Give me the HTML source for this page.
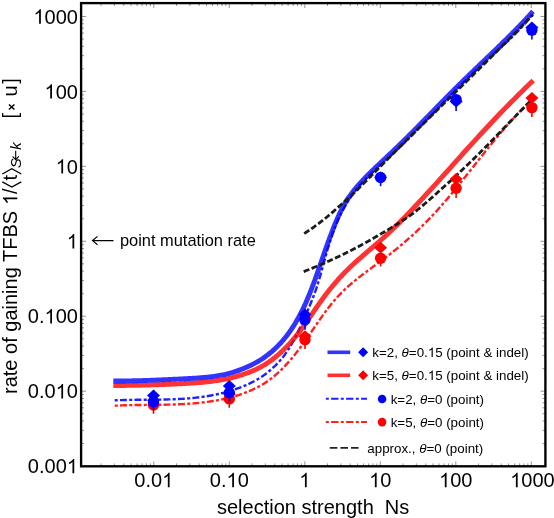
<!DOCTYPE html>
<html><head><meta charset="utf-8"><title>chart</title>
<style>html,body{margin:0;padding:0;background:#fff;}body{width:554px;height:518px;overflow:hidden;font-family:"Liberation Sans",sans-serif;}svg{display:block;will-change:transform}</style>
</head><body>
<svg width="554" height="518" viewBox="0 0 554 518" font-family="Liberation Sans, sans-serif">
<rect width="554" height="518" fill="#fff"/>
<path d="M101.03 466.3 v-2.9 M101.03 3.1 v2.9 M81.1 443.56 h2.9 M545.4 443.56 h-2.9 M114.32 466.3 v-2.9 M114.32 3.1 v2.9 M81.1 430.36 h2.9 M545.4 430.36 h-2.9 M123.76 466.3 v-2.9 M123.76 3.1 v2.9 M81.1 421.00 h2.9 M545.4 421.00 h-2.9 M131.07 466.3 v-2.9 M131.07 3.1 v2.9 M81.1 413.74 h2.9 M545.4 413.74 h-2.9 M137.05 466.3 v-2.9 M137.05 3.1 v2.9 M81.1 407.81 h2.9 M545.4 407.81 h-2.9 M142.10 466.3 v-2.9 M142.10 3.1 v2.9 M81.1 402.79 h2.9 M545.4 402.79 h-2.9 M146.48 466.3 v-2.9 M146.48 3.1 v2.9 M81.1 398.44 h2.9 M545.4 398.44 h-2.9 M150.35 466.3 v-2.9 M150.35 3.1 v2.9 M81.1 394.61 h2.9 M545.4 394.61 h-2.9 M153.80 466.3 v-4.9 M153.80 3.1 v4.9 M81.1 391.18 h4.9 M545.4 391.18 h-4.9 M176.53 466.3 v-2.9 M176.53 3.1 v2.9 M81.1 368.62 h2.9 M545.4 368.62 h-2.9 M189.82 466.3 v-2.9 M189.82 3.1 v2.9 M81.1 355.42 h2.9 M545.4 355.42 h-2.9 M199.26 466.3 v-2.9 M199.26 3.1 v2.9 M81.1 346.06 h2.9 M545.4 346.06 h-2.9 M206.57 466.3 v-2.9 M206.57 3.1 v2.9 M81.1 338.80 h2.9 M545.4 338.80 h-2.9 M212.55 466.3 v-2.9 M212.55 3.1 v2.9 M81.1 332.87 h2.9 M545.4 332.87 h-2.9 M217.60 466.3 v-2.9 M217.60 3.1 v2.9 M81.1 327.85 h2.9 M545.4 327.85 h-2.9 M221.98 466.3 v-2.9 M221.98 3.1 v2.9 M81.1 323.50 h2.9 M545.4 323.50 h-2.9 M225.85 466.3 v-2.9 M225.85 3.1 v2.9 M81.1 319.67 h2.9 M545.4 319.67 h-2.9 M229.30 466.3 v-4.9 M229.30 3.1 v4.9 M81.1 316.24 h4.9 M545.4 316.24 h-4.9 M252.03 466.3 v-2.9 M252.03 3.1 v2.9 M81.1 293.68 h2.9 M545.4 293.68 h-2.9 M265.32 466.3 v-2.9 M265.32 3.1 v2.9 M81.1 280.48 h2.9 M545.4 280.48 h-2.9 M274.76 466.3 v-2.9 M274.76 3.1 v2.9 M81.1 271.12 h2.9 M545.4 271.12 h-2.9 M282.07 466.3 v-2.9 M282.07 3.1 v2.9 M81.1 263.86 h2.9 M545.4 263.86 h-2.9 M288.05 466.3 v-2.9 M288.05 3.1 v2.9 M81.1 257.93 h2.9 M545.4 257.93 h-2.9 M293.10 466.3 v-2.9 M293.10 3.1 v2.9 M81.1 252.91 h2.9 M545.4 252.91 h-2.9 M297.48 466.3 v-2.9 M297.48 3.1 v2.9 M81.1 248.56 h2.9 M545.4 248.56 h-2.9 M301.35 466.3 v-2.9 M301.35 3.1 v2.9 M81.1 244.73 h2.9 M545.4 244.73 h-2.9 M304.80 466.3 v-4.9 M304.80 3.1 v4.9 M81.1 241.30 h4.9 M545.4 241.30 h-4.9 M327.53 466.3 v-2.9 M327.53 3.1 v2.9 M81.1 218.74 h2.9 M545.4 218.74 h-2.9 M340.82 466.3 v-2.9 M340.82 3.1 v2.9 M81.1 205.54 h2.9 M545.4 205.54 h-2.9 M350.26 466.3 v-2.9 M350.26 3.1 v2.9 M81.1 196.18 h2.9 M545.4 196.18 h-2.9 M357.57 466.3 v-2.9 M357.57 3.1 v2.9 M81.1 188.92 h2.9 M545.4 188.92 h-2.9 M363.55 466.3 v-2.9 M363.55 3.1 v2.9 M81.1 182.99 h2.9 M545.4 182.99 h-2.9 M368.60 466.3 v-2.9 M368.60 3.1 v2.9 M81.1 177.97 h2.9 M545.4 177.97 h-2.9 M372.98 466.3 v-2.9 M372.98 3.1 v2.9 M81.1 173.62 h2.9 M545.4 173.62 h-2.9 M376.85 466.3 v-2.9 M376.85 3.1 v2.9 M81.1 169.79 h2.9 M545.4 169.79 h-2.9 M380.30 466.3 v-4.9 M380.30 3.1 v4.9 M81.1 166.36 h4.9 M545.4 166.36 h-4.9 M403.03 466.3 v-2.9 M403.03 3.1 v2.9 M81.1 143.80 h2.9 M545.4 143.80 h-2.9 M416.32 466.3 v-2.9 M416.32 3.1 v2.9 M81.1 130.60 h2.9 M545.4 130.60 h-2.9 M425.76 466.3 v-2.9 M425.76 3.1 v2.9 M81.1 121.24 h2.9 M545.4 121.24 h-2.9 M433.07 466.3 v-2.9 M433.07 3.1 v2.9 M81.1 113.98 h2.9 M545.4 113.98 h-2.9 M439.05 466.3 v-2.9 M439.05 3.1 v2.9 M81.1 108.05 h2.9 M545.4 108.05 h-2.9 M444.10 466.3 v-2.9 M444.10 3.1 v2.9 M81.1 103.03 h2.9 M545.4 103.03 h-2.9 M448.48 466.3 v-2.9 M448.48 3.1 v2.9 M81.1 98.68 h2.9 M545.4 98.68 h-2.9 M452.35 466.3 v-2.9 M452.35 3.1 v2.9 M81.1 94.85 h2.9 M545.4 94.85 h-2.9 M455.80 466.3 v-4.9 M455.80 3.1 v4.9 M81.1 91.42 h4.9 M545.4 91.42 h-4.9 M478.53 466.3 v-2.9 M478.53 3.1 v2.9 M81.1 68.86 h2.9 M545.4 68.86 h-2.9 M491.82 466.3 v-2.9 M491.82 3.1 v2.9 M81.1 55.66 h2.9 M545.4 55.66 h-2.9 M501.26 466.3 v-2.9 M501.26 3.1 v2.9 M81.1 46.30 h2.9 M545.4 46.30 h-2.9 M508.57 466.3 v-2.9 M508.57 3.1 v2.9 M81.1 39.04 h2.9 M545.4 39.04 h-2.9 M514.55 466.3 v-2.9 M514.55 3.1 v2.9 M81.1 33.11 h2.9 M545.4 33.11 h-2.9 M519.60 466.3 v-2.9 M519.60 3.1 v2.9 M81.1 28.09 h2.9 M545.4 28.09 h-2.9 M523.98 466.3 v-2.9 M523.98 3.1 v2.9 M81.1 23.74 h2.9 M545.4 23.74 h-2.9 M527.85 466.3 v-2.9 M527.85 3.1 v2.9 M81.1 19.91 h2.9 M545.4 19.91 h-2.9 M531.30 466.3 v-4.9 M531.30 3.1 v4.9 M81.1 16.48 h4.9 M545.4 16.48 h-4.9" stroke="#666" stroke-width="0.7" fill="none"/>
<path d="M114.66 400.36 L116.17 400.30 L117.68 400.23 L119.19 400.18 L120.71 400.12 L122.23 400.08 L123.74 400.03 L125.27 399.99 L126.79 399.96 L128.31 399.93 L129.84 399.90 L131.37 399.87 L132.90 399.85 L134.43 399.83 L135.96 399.82 L137.49 399.80 L139.03 399.78 L140.56 399.77 L142.10 399.76 L143.64 399.75 L145.18 399.74 L146.72 399.73 L148.26 399.72 L149.80 399.70 L151.34 399.69 L152.88 399.68 L154.43 399.66 L155.97 399.65 L157.51 399.63 L159.06 399.61 L160.60 399.58 L162.15 399.56 L163.69 399.53 L165.23 399.50 L166.78 399.46 L168.32 399.42 L169.86 399.37 L171.41 399.32 L172.95 399.27 L174.49 399.21 L176.03 399.15 L177.57 399.08 L179.11 399.00 L180.65 398.92 L182.19 398.83 L183.72 398.73 L185.26 398.63 L186.79 398.51 L188.32 398.40 L189.86 398.27 L191.39 398.13 L192.91 397.99 L194.44 397.84 L195.97 397.67 L197.49 397.50 L199.01 397.32 L200.53 397.13 L202.05 396.92 L203.56 396.71 L205.08 396.49 L206.59 396.25 L208.10 396.00 L209.61 395.74 L211.11 395.47 L212.61 395.19 L214.11 394.89 L215.61 394.59 L217.11 394.28 L218.60 393.97 L220.09 393.63 L221.58 393.28 L223.07 392.92 L224.55 392.54 L226.03 392.15 L227.51 391.74 L228.98 391.32 L230.45 390.88 L231.91 390.43 L233.37 389.96 L234.82 389.47 L236.27 388.97 L237.71 388.45 L239.15 387.91 L240.58 387.36 L242.01 386.81 L243.43 386.24 L244.85 385.65 L246.26 385.04 L247.66 384.41 L249.05 383.77 L250.43 383.11 L251.81 382.42 L253.18 381.72 L254.53 380.99 L255.88 380.25 L257.22 379.49 L258.55 378.70 L259.86 377.90 L261.17 377.07 L262.47 376.22 L263.73 375.33 L264.98 374.41 L266.22 373.48 L267.45 372.52 L268.66 371.54 L269.86 370.54 L271.04 369.52 L272.21 368.49 L273.36 367.43 L274.50 366.36 L275.62 365.27 L276.72 364.16 L277.80 363.03 L278.87 361.89 L279.92 360.73 L280.94 359.56 L281.93 358.35 L282.90 357.14 L283.85 355.91 L284.78 354.66 L285.69 353.41 L286.58 352.14 L287.44 350.86 L288.29 349.58 L289.11 348.28 L289.92 346.97 L290.71 345.66 L291.48 344.34 L292.23 343.01 L292.97 341.67 L293.70 340.32 L294.42 338.97 L295.12 337.61 L295.81 336.25 L296.49 334.88 L297.17 333.51 L297.83 332.13 L298.49 330.75 L299.14 329.36 L299.79 327.98 L300.43 326.59 L301.08 325.20 L301.73 323.81 L302.38 322.42 L303.02 321.02 L303.65 319.63 L304.29 318.23 L304.92 316.83 L305.54 315.42 L306.17 314.02 L306.78 312.61 L307.40 311.20 L308.00 309.78 L308.61 308.37 L309.21 306.95 L309.80 305.53 L310.39 304.11 L310.97 302.68 L311.55 301.25 L312.12 299.83 L312.68 298.39 L313.24 296.96 L313.79 295.52 L314.34 294.09 L314.88 292.65 L315.41 291.20 L315.90 289.75 L316.39 288.29 L316.87 286.83 L317.34 285.36 L317.80 283.90 L318.26 282.44 L318.71 280.97 L319.16 279.50 L319.60 278.03 L320.03 276.56 L320.46 275.09 L320.88 273.62 L321.30 272.14 L321.71 270.67 L322.13 269.19 L322.54 267.72 L322.94 266.24 L323.35 264.76 L323.75 263.29 L324.15 261.81 L324.56 260.33 L324.96 258.85 L325.36 257.37 L325.76 255.89 L326.17 254.42 L326.58 252.94 L326.98 251.46 L327.40 249.98 L327.84 248.51 L328.29 247.05 L328.75 245.58 L329.21 244.12 L329.67 242.65 L330.14 241.19 L330.62 239.73 L331.11 238.27 L331.60 236.82 L332.10 235.36 L332.61 233.91 L333.12 232.46 L333.65 231.01 L334.18 229.57 L334.73 228.13 L335.28 226.69 L335.85 225.25 L336.43 223.82 L337.01 222.40 L337.61 220.98 L338.22 219.57 L338.84 218.16 L339.48 216.76 L340.14 215.37 L340.82 213.99 L341.52 212.63 L342.23 211.27 L342.95 209.91 L343.69 208.57 L344.44 207.24 L345.21 205.92 L346.00 204.61 L346.79 203.31 L347.58 202.00 L348.37 200.70 L349.19 199.41 L350.02 198.14 L350.86 196.87 L351.73 195.62 L352.61 194.38 L353.51 193.15 L354.43 191.93 L355.36 190.73 L356.31 189.54 L357.28 188.36 L358.26 187.19 L359.25 186.03 L360.26 184.88 L361.29 183.74 L362.33 182.62 L363.38 181.50 L364.44 180.39 L365.51 179.29 L366.59 178.19 L367.68 177.11 L368.78 176.02 L369.88 174.95 L371.00 173.88 L372.12 172.81 L373.24 171.75 L374.37 170.70 L375.51 169.64 L376.65 168.59 L377.79 167.55 L378.94 166.50 L380.09 165.46 L381.24 164.42 L382.39 163.38 L383.54 162.34 L384.69 161.30 L385.84 160.26 L386.98 159.21 L388.13 158.17 L389.27 157.13 L390.41 156.08 L391.54 155.03 L392.68 153.98 L393.80 152.93 L394.93 151.87 L396.05 150.81 L397.17 149.75 L398.28 148.69 L399.40 147.62 L400.51 146.56 L401.61 145.49 L402.72 144.42 L403.82 143.34 L404.91 142.27 L406.01 141.19 L407.10 140.12 L408.19 139.04 L409.28 137.96 L410.37 136.87 L411.45 135.79 L412.53 134.71 L413.61 133.62 L414.69 132.53 L415.77 131.44 L416.84 130.35 L417.92 129.26 L418.99 128.17 L420.06 127.08 L421.13 125.98 L422.20 124.89 L423.26 123.79 L424.33 122.70 L425.39 121.60 L426.46 120.50 L427.52 119.41 L428.58 118.31 L429.64 117.21 L430.70 116.11 L431.76 115.01 L432.82 113.91 L433.88 112.81 L434.94 111.72 L436.00 110.62 L437.06 109.52 L438.12 108.42 L439.18 107.32 L440.24 106.22 L441.30 105.12 L442.36 104.02 L443.42 102.92 L444.48 101.83 L445.54 100.73 L446.60 99.63 L447.67 98.54 L448.73 97.44 L449.79 96.35 L450.86 95.26 L451.93 94.16 L453.00 93.07 L454.07 91.98 L455.14 90.89 L456.21 89.80 L457.28 88.72 L458.36 87.63 L459.44 86.55 L460.52 85.46 L461.60 84.38 L462.68 83.30 L463.77 82.22 L464.85 81.15 L465.94 80.07 L467.03 79.00 L468.13 77.93 L469.23 76.86 L470.33 75.79 L471.43 74.72 L472.53 73.66 L473.64 72.60 L474.75 71.54 L475.86 70.48 L476.98 69.42 L478.10 68.37 L479.22 67.32 L480.35 66.27 L481.48 65.23 L482.61 64.18 L483.75 63.14 L484.89 62.10 L486.03 61.07 L487.17 60.03 L488.31 59.00 L489.46 57.96 L490.61 56.93 L491.75 55.90 L492.90 54.86 L494.04 53.83 L495.19 52.79 L496.34 51.76 L497.48 50.72 L498.62 49.69 L499.76 48.65 L500.90 47.61 L502.04 46.57 L503.17 45.52 L504.30 44.48 L505.43 43.43 L506.56 42.37 L507.68 41.32 L508.79 40.26 L509.90 39.20 L511.01 38.13 L512.11 37.06 L513.21 35.98 L514.30 34.90 L515.38 33.81 L516.46 32.72 L517.53 31.62 L518.59 30.52 L519.65 29.41 L520.70 28.30 L521.74 27.17 L522.77 26.05 L523.79 24.91 L524.80 23.77 L525.81 22.61 L526.80 21.46 L527.79 20.29 L528.76 19.11 L529.72 17.93 L530.68 16.74 L531.62 15.53 L532.55 14.32" stroke="#2020ff" stroke-width="2.4" stroke-dasharray="3.1 2.2 6.9 2.3" fill="none"/>
<path d="M114.73 405.71 L116.06 405.64 L117.40 405.58 L118.74 405.52 L120.08 405.46 L121.42 405.41 L122.77 405.36 L124.11 405.31 L125.46 405.27 L126.81 405.23 L128.16 405.19 L129.51 405.16 L130.86 405.13 L132.21 405.10 L133.57 405.08 L134.93 405.05 L136.28 405.03 L137.64 405.01 L139.00 404.99 L140.36 404.97 L141.72 404.96 L143.09 404.94 L144.45 404.93 L145.81 404.92 L147.18 404.90 L148.55 404.89 L149.91 404.88 L151.28 404.86 L152.65 404.85 L154.02 404.83 L155.39 404.82 L156.76 404.80 L158.13 404.79 L159.50 404.77 L160.87 404.75 L162.24 404.73 L163.61 404.70 L164.98 404.68 L166.35 404.65 L167.73 404.62 L169.10 404.59 L170.47 404.55 L171.84 404.52 L173.22 404.47 L174.59 404.43 L175.96 404.38 L177.33 404.33 L178.71 404.27 L180.08 404.21 L181.45 404.15 L182.82 404.08 L184.19 404.00 L185.56 403.92 L186.93 403.84 L188.30 403.75 L189.67 403.66 L191.04 403.56 L192.41 403.45 L193.77 403.34 L195.14 403.22 L196.51 403.09 L197.87 402.96 L199.24 402.82 L200.60 402.68 L201.96 402.53 L203.33 402.37 L204.69 402.20 L206.05 402.03 L207.40 401.84 L208.76 401.65 L210.12 401.45 L211.47 401.24 L212.83 401.03 L214.18 400.80 L215.53 400.57 L216.88 400.34 L218.23 400.10 L219.58 399.85 L220.93 399.58 L222.28 399.31 L223.62 399.03 L224.97 398.74 L226.31 398.43 L227.64 398.12 L228.98 397.79 L230.31 397.46 L231.64 397.11 L232.97 396.75 L234.29 396.38 L235.61 396.00 L236.92 395.60 L238.23 395.20 L239.53 394.78 L240.83 394.34 L242.12 393.90 L243.41 393.44 L244.69 392.97 L245.96 392.49 L247.23 391.99 L248.49 391.47 L249.75 390.95 L250.99 390.41 L252.23 389.85 L253.46 389.28 L254.68 388.70 L255.90 388.10 L257.10 387.48 L258.30 386.85 L259.48 386.21 L260.66 385.54 L261.82 384.87 L262.98 384.17 L264.13 383.46 L265.26 382.73 L266.38 381.99 L267.49 381.23 L268.59 380.45 L269.68 379.66 L270.76 378.85 L271.83 378.03 L272.89 377.19 L273.94 376.34 L274.98 375.48 L276.00 374.60 L277.02 373.71 L278.03 372.80 L279.03 371.88 L280.02 370.95 L281.00 370.01 L281.98 369.06 L282.94 368.10 L283.90 367.12 L284.84 366.14 L285.78 365.14 L286.71 364.14 L287.64 363.12 L288.55 362.10 L289.46 361.06 L290.36 360.02 L291.26 358.97 L292.14 357.92 L293.03 356.85 L293.90 355.78 L294.77 354.71 L295.63 353.62 L296.49 352.53 L297.34 351.44 L298.18 350.34 L299.02 349.23 L299.85 348.12 L300.68 347.00 L301.51 345.89 L302.33 344.76 L303.14 343.64 L303.95 342.51 L304.76 341.38 L305.56 340.25 L306.36 339.11 L307.15 337.97 L307.94 336.84 L308.73 335.70 L309.52 334.56 L310.30 333.42 L311.08 332.28 L311.86 331.14 L312.64 330.00 L313.41 328.87 L314.19 327.73 L314.96 326.59 L315.74 325.46 L316.51 324.33 L317.29 323.20 L318.07 322.07 L318.85 320.95 L319.63 319.83 L320.41 318.71 L321.19 317.60 L321.98 316.49 L322.77 315.38 L323.56 314.28 L324.36 313.18 L325.16 312.09 L325.97 311.00 L326.78 309.92 L327.59 308.85 L328.41 307.78 L329.24 306.71 L330.07 305.66 L330.91 304.61 L331.76 303.57 L332.61 302.53 L333.47 301.51 L334.34 300.49 L335.22 299.48 L336.10 298.47 L337.00 297.48 L337.90 296.50 L338.81 295.52 L339.73 294.55 L340.65 293.59 L341.59 292.64 L342.54 291.69 L343.49 290.76 L344.46 289.83 L345.43 288.91 L346.42 288.00 L347.41 287.09 L348.41 286.19 L349.42 285.30 L350.43 284.41 L351.46 283.54 L352.49 282.66 L353.52 281.79 L354.57 280.93 L355.62 280.07 L356.67 279.22 L357.73 278.37 L358.80 277.53 L359.87 276.69 L360.94 275.85 L362.02 275.02 L363.11 274.19 L364.19 273.36 L365.28 272.53 L366.38 271.71 L367.47 270.89 L368.57 270.07 L369.67 269.25 L370.78 268.44 L371.88 267.62 L372.99 266.80 L374.09 265.99 L375.20 265.17 L376.31 264.36 L377.42 263.54 L378.53 262.73 L379.63 261.91 L380.74 261.09 L381.85 260.27 L382.95 259.45 L384.05 258.62 L385.15 257.79 L386.25 256.96 L387.34 256.13 L388.44 255.29 L389.53 254.45 L390.61 253.61 L391.69 252.76 L392.77 251.91 L393.84 251.06 L394.92 250.20 L395.98 249.34 L397.05 248.47 L398.11 247.60 L399.16 246.73 L400.21 245.86 L401.26 244.98 L402.31 244.09 L403.35 243.21 L404.39 242.32 L405.42 241.42 L406.46 240.53 L407.48 239.63 L408.51 238.72 L409.53 237.81 L410.55 236.90 L411.56 235.99 L412.57 235.07 L413.58 234.15 L414.58 233.23 L415.58 232.30 L416.57 231.37 L417.57 230.43 L418.56 229.49 L419.54 228.55 L420.52 227.60 L421.50 226.66 L422.48 225.70 L423.45 224.75 L424.42 223.79 L425.38 222.82 L426.34 221.85 L427.29 220.88 L428.24 219.90 L429.18 218.92 L430.13 217.93 L431.06 216.94 L432.00 215.95 L432.93 214.96 L433.86 213.96 L434.79 212.96 L435.71 211.96 L436.63 210.95 L437.54 209.94 L438.45 208.92 L439.36 207.91 L440.27 206.89 L441.17 205.87 L442.07 204.84 L442.97 203.82 L443.87 202.79 L444.76 201.75 L445.65 200.72 L446.54 199.68 L447.42 198.64 L448.31 197.60 L449.19 196.56 L450.07 195.51 L450.94 194.46 L451.82 193.42 L452.69 192.36 L453.56 191.31 L454.43 190.26 L455.29 189.20 L456.16 188.14 L457.02 187.08 L457.89 186.02 L458.75 184.96 L459.61 183.90 L460.46 182.83 L461.32 181.77 L462.18 180.70 L463.03 179.63 L463.89 178.56 L464.74 177.49 L465.59 176.42 L466.44 175.35 L467.29 174.28 L468.14 173.21 L468.99 172.14 L469.84 171.06 L470.69 169.99 L471.54 168.92 L472.39 167.84 L473.23 166.77 L474.08 165.69 L474.93 164.62 L475.78 163.55 L476.63 162.47 L477.47 161.40 L478.32 160.32 L479.17 159.25 L480.02 158.18 L480.87 157.11 L481.72 156.04 L482.57 154.96 L483.42 153.89 L484.28 152.83 L485.13 151.76 L485.98 150.69 L486.84 149.62 L487.70 148.56 L488.55 147.49 L489.41 146.43 L490.27 145.37 L491.13 144.31 L492.00 143.25 L492.86 142.19 L493.73 141.13 L494.59 140.08 L495.46 139.03 L496.33 137.98 L497.21 136.93 L498.08 135.88 L498.96 134.83 L499.84 133.79 L500.72 132.75 L501.60 131.71 L502.49 130.67 L503.38 129.64 L504.27 128.61 L505.16 127.58 L506.06 126.55 L506.96 125.53 L507.86 124.50 L508.76 123.49 L509.67 122.47 L510.58 121.46 L511.49 120.45 L512.41 119.44 L513.33 118.44 L514.25 117.43 L515.18 116.44 L516.11 115.44 L517.04 114.45 L517.98 113.46 L518.92 112.48 L519.86 111.50 L520.81 110.52 L521.76 109.55 L522.72 108.58 L523.68 107.62 L524.65 106.66 L525.61 105.70 L526.59 104.75 L527.56 103.80 L528.55 102.85 L529.53 101.91 L530.53 100.98 L531.53 100.05" stroke="#ff2020" stroke-width="2.4" stroke-dasharray="3.1 2.2 6.9 2.3" fill="none"/>
<path d="M113.31 385.54 L114.69 385.53 L116.06 385.52 L117.43 385.51 L118.80 385.50 L120.17 385.49 L121.54 385.47 L122.91 385.46 L124.28 385.44 L125.65 385.43 L127.01 385.41 L128.38 385.39 L129.75 385.37 L131.11 385.35 L132.48 385.33 L133.85 385.31 L135.21 385.28 L136.58 385.26 L137.94 385.23 L139.31 385.21 L140.67 385.18 L142.04 385.15 L143.40 385.12 L144.77 385.09 L146.13 385.05 L147.50 385.02 L148.86 384.99 L150.22 384.95 L151.59 384.91 L152.95 384.87 L154.32 384.83 L155.68 384.79 L157.05 384.75 L158.41 384.70 L159.77 384.66 L161.14 384.61 L162.51 384.56 L163.87 384.51 L165.24 384.46 L166.60 384.40 L167.97 384.35 L169.33 384.29 L170.70 384.23 L172.07 384.17 L173.44 384.11 L174.80 384.05 L176.17 383.98 L177.54 383.91 L178.91 383.85 L180.28 383.78 L181.65 383.70 L183.02 383.63 L184.39 383.55 L185.77 383.48 L187.14 383.40 L188.51 383.31 L189.89 383.23 L191.26 383.14 L192.63 383.06 L194.01 382.96 L195.38 382.87 L196.76 382.77 L198.13 382.66 L199.51 382.55 L200.88 382.44 L202.26 382.32 L203.63 382.19 L205.00 382.06 L206.37 381.92 L207.74 381.78 L209.11 381.62 L210.47 381.46 L211.84 381.29 L213.20 381.11 L214.56 380.93 L215.92 380.74 L217.28 380.55 L218.64 380.35 L219.99 380.14 L221.35 379.91 L222.70 379.68 L224.04 379.43 L225.39 379.17 L226.73 378.90 L228.07 378.62 L229.40 378.32 L230.74 378.01 L232.07 377.68 L233.39 377.34 L234.71 376.99 L236.03 376.62 L237.34 376.24 L238.65 375.85 L239.95 375.44 L241.26 375.04 L242.57 374.63 L243.87 374.20 L245.16 373.76 L246.45 373.31 L247.73 372.84 L249.01 372.35 L250.28 371.85 L251.55 371.34 L252.81 370.80 L254.07 370.26 L255.31 369.69 L256.55 369.11 L257.79 368.52 L259.01 367.91 L260.23 367.28 L261.44 366.64 L262.65 365.98 L263.82 365.27 L264.99 364.55 L266.15 363.81 L267.30 363.06 L268.44 362.29 L269.57 361.51 L270.69 360.71 L271.80 359.90 L272.90 359.07 L273.99 358.23 L275.08 357.38 L276.15 356.51 L277.21 355.63 L278.25 354.73 L279.29 353.81 L280.31 352.88 L281.33 351.94 L282.34 350.99 L283.33 350.04 L284.32 349.06 L285.30 348.08 L286.27 347.09 L287.23 346.10 L288.18 345.09 L289.13 344.07 L290.06 343.05 L290.99 342.01 L291.90 340.97 L292.81 339.92 L293.71 338.87 L294.60 337.80 L295.49 336.73 L296.36 335.66 L297.22 334.57 L298.08 333.49 L298.93 332.39 L299.77 331.30 L300.60 330.19 L301.43 329.09 L302.24 327.97 L303.06 326.86 L303.86 325.74 L304.66 324.62 L305.46 323.49 L306.25 322.37 L307.04 321.24 L307.82 320.11 L308.60 318.98 L309.38 317.85 L310.16 316.72 L310.93 315.58 L311.71 314.45 L312.48 313.32 L313.25 312.19 L314.03 311.06 L314.80 309.93 L315.58 308.80 L316.35 307.67 L317.13 306.55 L317.92 305.43 L318.70 304.31 L319.49 303.20 L320.28 302.08 L321.07 300.97 L321.87 299.87 L322.67 298.76 L323.47 297.66 L324.28 296.56 L325.09 295.47 L325.91 294.38 L326.74 293.31 L327.58 292.24 L328.42 291.17 L329.27 290.10 L330.12 289.05 L330.98 287.99 L331.84 286.94 L332.70 285.90 L333.57 284.85 L334.45 283.82 L335.33 282.79 L336.22 281.76 L337.11 280.74 L338.01 279.73 L338.91 278.72 L339.82 277.72 L340.74 276.72 L341.66 275.73 L342.59 274.74 L343.52 273.76 L344.47 272.79 L345.42 271.82 L346.37 270.86 L347.33 269.90 L348.30 268.95 L349.27 268.00 L350.25 267.06 L351.24 266.13 L352.23 265.20 L353.23 264.27 L354.23 263.35 L355.24 262.43 L356.25 261.52 L357.26 260.61 L358.28 259.70 L359.31 258.80 L360.34 257.89 L361.37 256.99 L362.40 256.10 L363.44 255.20 L364.47 254.31 L365.51 253.41 L366.55 252.51 L367.59 251.62 L368.63 250.72 L369.67 249.82 L370.71 248.93 L371.75 248.03 L372.79 247.13 L373.83 246.24 L374.87 245.34 L375.91 244.44 L376.95 243.54 L377.98 242.63 L379.02 241.73 L380.05 240.82 L381.08 239.91 L382.11 238.99 L383.14 238.08 L384.16 237.16 L385.18 236.23 L386.19 235.30 L387.20 234.37 L388.21 233.44 L389.21 232.50 L390.21 231.56 L391.21 230.62 L392.20 229.67 L393.19 228.72 L394.18 227.77 L395.16 226.81 L396.14 225.85 L397.12 224.89 L398.09 223.93 L399.07 222.96 L400.04 221.99 L401.00 221.02 L401.97 220.05 L402.93 219.07 L403.89 218.10 L404.84 217.12 L405.80 216.13 L406.75 215.15 L407.70 214.16 L408.65 213.17 L409.60 212.18 L410.54 211.19 L411.48 210.20 L412.42 209.20 L413.37 208.21 L414.31 207.22 L415.25 206.22 L416.18 205.22 L417.12 204.22 L418.06 203.22 L418.99 202.22 L419.92 201.22 L420.86 200.22 L421.79 199.21 L422.72 198.21 L423.64 197.20 L424.57 196.20 L425.50 195.19 L426.43 194.18 L427.35 193.17 L428.28 192.16 L429.20 191.15 L430.13 190.14 L431.05 189.13 L431.97 188.12 L432.89 187.11 L433.82 186.10 L434.74 185.09 L435.66 184.07 L436.58 183.06 L437.50 182.04 L438.42 181.03 L439.34 180.02 L440.26 179.00 L441.17 177.98 L442.09 176.96 L443.00 175.94 L443.91 174.92 L444.83 173.90 L445.74 172.88 L446.65 171.86 L447.56 170.84 L448.48 169.82 L449.39 168.80 L450.30 167.78 L451.21 166.76 L452.12 165.73 L453.04 164.71 L453.95 163.69 L454.86 162.67 L455.77 161.65 L456.69 160.63 L457.60 159.61 L458.51 158.59 L459.43 157.57 L460.34 156.55 L461.25 155.53 L462.17 154.52 L463.08 153.50 L464.00 152.48 L464.91 151.46 L465.83 150.45 L466.75 149.43 L467.66 148.41 L468.58 147.40 L469.50 146.38 L470.42 145.37 L471.34 144.35 L472.26 143.34 L473.18 142.33 L474.10 141.32 L475.02 140.31 L475.94 139.30 L476.87 138.29 L477.79 137.28 L478.71 136.27 L479.64 135.26 L480.57 134.26 L481.49 133.25 L482.42 132.25 L483.35 131.24 L484.28 130.24 L485.21 129.24 L486.14 128.24 L487.08 127.24 L488.01 126.24 L488.95 125.24 L489.88 124.24 L490.81 123.24 L491.74 122.24 L492.68 121.24 L493.62 120.25 L494.55 119.25 L495.49 118.26 L496.43 117.26 L497.38 116.27 L498.32 115.28 L499.26 114.29 L500.21 113.31 L501.16 112.32 L502.11 111.34 L503.06 110.35 L504.01 109.37 L504.96 108.39 L505.92 107.41 L506.87 106.44 L507.83 105.46 L508.79 104.49 L509.75 103.52 L510.72 102.54 L511.68 101.58 L512.65 100.61 L513.62 99.64 L514.59 98.68 L515.56 97.71 L516.52 96.74 L517.48 95.77 L518.45 94.80 L519.42 93.84 L520.39 92.87 L521.36 91.91 L522.34 90.95 L523.32 89.99 L524.29 89.03 L525.28 88.08 L526.26 87.12 L527.24 86.17 L528.23 85.22 L529.22 84.28 L530.21 83.33 L531.21 82.39 L532.21 81.45 L533.21 80.51" stroke="#ff0000" stroke-opacity="0.8" stroke-width="4.9" fill="none"/>
<path d="M113.31 381.01 L114.81 381.01 L116.31 381.01 L117.81 381.00 L119.31 380.99 L120.81 380.98 L122.31 380.97 L123.81 380.95 L125.31 380.94 L126.82 380.91 L128.32 380.89 L129.82 380.87 L131.32 380.84 L132.83 380.81 L134.33 380.78 L135.83 380.74 L137.34 380.71 L138.84 380.67 L140.34 380.63 L141.85 380.59 L143.35 380.54 L144.85 380.50 L146.36 380.45 L147.86 380.40 L149.37 380.35 L150.87 380.29 L152.37 380.24 L153.88 380.18 L155.38 380.12 L156.89 380.06 L158.39 380.00 L159.89 379.94 L161.40 379.87 L162.90 379.81 L164.40 379.74 L165.91 379.67 L167.41 379.60 L168.91 379.53 L170.42 379.46 L171.92 379.39 L173.42 379.31 L174.93 379.24 L176.43 379.16 L177.93 379.09 L179.43 379.01 L180.94 378.93 L182.44 378.85 L183.94 378.77 L185.44 378.69 L186.94 378.61 L188.44 378.52 L189.94 378.44 L191.44 378.36 L192.94 378.27 L194.44 378.18 L195.94 378.09 L197.44 377.99 L198.94 377.88 L200.43 377.77 L201.93 377.65 L203.42 377.53 L204.91 377.39 L206.40 377.25 L207.89 377.09 L209.37 376.93 L210.86 376.75 L212.34 376.56 L213.82 376.36 L215.30 376.14 L216.78 375.93 L218.26 375.69 L219.73 375.45 L221.20 375.18 L222.67 374.90 L224.14 374.59 L225.60 374.27 L227.07 373.92 L228.53 373.56 L229.98 373.17 L231.44 372.76 L232.89 372.33 L234.33 371.87 L235.77 371.39 L237.21 370.90 L238.64 370.38 L240.06 369.84 L241.50 369.31 L242.92 368.76 L244.34 368.19 L245.75 367.59 L247.16 366.98 L248.56 366.35 L249.95 365.70 L251.33 365.03 L252.70 364.34 L254.07 363.62 L255.42 362.90 L256.77 362.15 L258.10 361.38 L259.42 360.60 L260.73 359.79 L262.03 358.97 L263.31 358.12 L264.56 357.23 L265.80 356.33 L267.02 355.41 L268.23 354.48 L269.43 353.53 L270.60 352.57 L271.77 351.59 L272.91 350.59 L274.04 349.59 L275.16 348.56 L276.25 347.53 L277.33 346.47 L278.38 345.40 L279.42 344.32 L280.44 343.23 L281.45 342.12 L282.43 341.00 L283.41 339.87 L284.36 338.73 L285.30 337.57 L286.23 336.41 L287.14 335.23 L288.03 334.04 L288.91 332.84 L289.78 331.64 L290.63 330.42 L291.47 329.19 L292.29 327.95 L293.10 326.70 L293.90 325.44 L294.68 324.18 L295.46 322.90 L296.22 321.62 L296.97 320.33 L297.71 319.03 L298.43 317.72 L299.15 316.41 L299.85 315.08 L300.55 313.75 L301.23 312.42 L301.91 311.07 L302.57 309.72 L303.23 308.36 L303.87 307.00 L304.51 305.63 L305.14 304.26 L305.76 302.88 L306.37 301.49 L306.98 300.10 L307.57 298.71 L308.16 297.31 L308.75 295.90 L309.32 294.50 L309.89 293.08 L310.46 291.67 L311.02 290.25 L311.57 288.83 L312.12 287.40 L312.66 285.97 L313.20 284.54 L313.73 283.11 L314.26 281.67 L314.79 280.23 L315.31 278.79 L315.83 277.35 L316.34 275.91 L316.85 274.46 L317.36 273.02 L317.87 271.57 L318.38 270.13 L318.88 268.68 L319.38 267.24 L319.88 265.79 L320.38 264.35 L320.88 262.90 L321.38 261.46 L321.87 260.01 L322.36 258.57 L322.85 257.12 L323.35 255.68 L323.84 254.24 L324.34 252.81 L324.83 251.37 L325.33 249.94 L325.83 248.51 L326.33 247.08 L326.84 245.66 L327.35 244.24 L327.86 242.82 L328.38 241.41 L328.89 240.00 L329.42 238.59 L329.95 237.19 L330.48 235.79 L331.01 234.40 L331.53 233.00 L332.05 231.60 L332.58 230.21 L333.11 228.82 L333.65 227.44 L334.20 226.06 L334.75 224.69 L335.31 223.32 L335.88 221.95 L336.46 220.59 L337.05 219.24 L337.64 217.89 L338.25 216.55 L338.86 215.21 L339.48 213.88 L340.12 212.55 L340.76 211.23 L341.42 209.91 L342.09 208.60 L342.76 207.30 L343.45 206.00 L344.16 204.71 L344.87 203.42 L345.64 202.17 L346.43 200.93 L347.23 199.69 L348.04 198.47 L348.87 197.25 L349.72 196.04 L350.58 194.84 L351.46 193.65 L352.35 192.47 L353.26 191.30 L354.18 190.13 L355.11 188.98 L356.06 187.83 L357.02 186.69 L358.00 185.55 L358.98 184.42 L359.98 183.30 L360.99 182.19 L362.01 181.08 L363.04 179.98 L364.08 178.88 L365.12 177.79 L366.18 176.71 L367.24 175.63 L368.31 174.55 L369.39 173.48 L370.47 172.41 L371.56 171.34 L372.66 170.28 L373.76 169.22 L374.86 168.17 L375.97 167.11 L377.08 166.06 L378.19 165.01 L379.31 163.97 L380.42 162.92 L381.54 161.88 L382.66 160.83 L383.78 159.79 L384.90 158.75 L386.01 157.70 L387.13 156.66 L388.24 155.62 L389.35 154.57 L390.46 153.53 L391.57 152.48 L392.67 151.43 L393.77 150.39 L394.86 149.34 L395.96 148.28 L397.05 147.23 L398.13 146.18 L399.22 145.13 L400.30 144.07 L401.38 143.02 L402.46 141.96 L403.54 140.90 L404.61 139.84 L405.68 138.78 L406.75 137.73 L407.82 136.66 L408.88 135.60 L409.94 134.54 L411.01 133.48 L412.07 132.42 L413.12 131.35 L414.18 130.29 L415.24 129.23 L416.29 128.16 L417.34 127.10 L418.39 126.03 L419.44 124.97 L420.49 123.90 L421.54 122.83 L422.59 121.77 L423.64 120.70 L424.68 119.63 L425.73 118.57 L426.77 117.50 L427.82 116.43 L428.86 115.37 L429.91 114.30 L430.95 113.23 L431.99 112.17 L433.04 111.10 L434.08 110.03 L435.12 108.96 L436.17 107.90 L437.21 106.83 L438.26 105.77 L439.30 104.70 L440.34 103.63 L441.39 102.57 L442.44 101.50 L443.48 100.44 L444.53 99.38 L445.58 98.31 L446.63 97.25 L447.68 96.19 L448.73 95.12 L449.79 94.06 L450.84 93.00 L451.90 91.94 L452.95 90.88 L454.01 89.82 L455.07 88.77 L456.13 87.71 L457.20 86.65 L458.26 85.60 L459.33 84.54 L460.40 83.49 L461.47 82.44 L462.54 81.38 L463.62 80.33 L464.70 79.28 L465.77 78.23 L466.85 77.19 L467.94 76.14 L469.02 75.09 L470.10 74.04 L471.19 73.00 L472.28 71.95 L473.36 70.90 L474.45 69.86 L475.54 68.81 L476.63 67.77 L477.72 66.72 L478.81 65.68 L479.91 64.63 L481.00 63.59 L482.09 62.55 L483.18 61.50 L484.28 60.46 L485.37 59.41 L486.46 58.37 L487.55 57.32 L488.65 56.28 L489.74 55.23 L490.83 54.18 L491.92 53.14 L493.01 52.09 L494.10 51.04 L495.19 49.99 L496.27 48.94 L497.36 47.89 L498.44 46.84 L499.53 45.79 L500.61 44.74 L501.69 43.68 L502.77 42.63 L503.85 41.57 L504.92 40.52 L506.00 39.46 L507.07 38.40 L508.14 37.34 L509.21 36.28 L510.27 35.21 L511.34 34.15 L512.40 33.08 L513.46 32.02 L514.51 30.95 L515.56 29.88 L516.62 28.81 L517.66 27.73 L518.71 26.66 L519.75 25.58 L520.79 24.50 L521.82 23.42 L522.85 22.34 L523.88 21.25 L524.91 20.16 L525.93 19.08 L526.94 17.98 L527.96 16.89 L528.97 15.80 L529.97 14.70 L530.97 13.60 L531.97 12.49 L532.96 11.39" stroke="#0000ff" stroke-opacity="0.8" stroke-width="4.9" fill="none"/>
<path d="M304.19 233.50 L304.86 233.08 L305.54 232.65 L306.21 232.23 L306.88 231.80 L307.54 231.36 L308.21 230.93 L308.87 230.49 L309.53 230.05 L310.19 229.60 L310.84 229.16 L311.50 228.71 L312.15 228.26 L312.80 227.80 L313.44 227.34 L314.09 226.89 L314.73 226.42 L315.38 225.96 L316.02 225.49 L316.66 225.03 L317.29 224.55 L317.93 224.08 L318.56 223.61 L319.19 223.13 L319.82 222.65 L320.45 222.17 L321.07 221.68 L321.70 221.20 L322.32 220.71 L322.94 220.22 L323.56 219.72 L324.18 219.23 L324.80 218.73 L325.41 218.24 L326.02 217.74 L326.64 217.23 L327.25 216.73 L327.86 216.23 L328.46 215.72 L329.07 215.21 L329.67 214.70 L330.28 214.19 L330.88 213.67 L331.48 213.16 L332.08 212.64 L332.68 212.12 L333.28 211.60 L333.87 211.08 L334.47 210.56 L335.06 210.03 L335.65 209.50 L336.24 208.98 L336.83 208.45 L337.42 207.92 L338.01 207.39 L338.60 206.85 L339.18 206.32 L339.77 205.78 L340.37 205.26 L340.97 204.75 L341.57 204.23 L342.17 203.71 L342.77 203.19 L343.37 202.67 L343.97 202.15 L344.57 201.62 L345.17 201.10 L345.76 200.58 L346.36 200.05 L346.96 199.52 L347.55 199.00 L348.14 198.47 L348.74 197.94 L349.33 197.41 L349.92 196.88 L350.51 196.34 L351.08 195.79 L351.65 195.23 L352.22 194.68 L352.79 194.13 L353.36 193.57 L353.93 193.02 L354.50 192.46 L355.07 191.90 L355.63 191.35 L356.20 190.79 L356.77 190.23 L357.33 189.67 L357.90 189.12 L358.46 188.56 L359.03 188.00 L359.60 187.44 L360.16 186.88 L360.72 186.32 L361.29 185.76 L361.85 185.19 L362.41 184.63 L362.98 184.07 L363.54 183.51 L364.10 182.95 L364.66 182.38 L365.23 181.82 L365.79 181.26 L366.35 180.69 L366.91 180.13 L367.47 179.57 L368.03 179.00 L368.59 178.44 L369.15 177.87 L369.71 177.31 L370.27 176.74 L370.83 176.18 L371.39 175.61 L371.95 175.05 L372.51 174.48 L373.07 173.91 L373.63 173.35 L374.19 172.78 L374.75 172.22 L375.31 171.65 L375.87 171.08 L376.42 170.52 L376.98 169.95 L377.54 169.38 L378.10 168.82 L378.66 168.25 L379.22 167.68 L379.78 167.12 L380.33 166.55 L380.89 165.98 L381.45 165.42 L382.01 164.85 L382.57 164.28 L383.13 163.72 L383.68 163.15 L384.24 162.59 L384.80 162.02 L385.36 161.45 L385.92 160.89 L386.48 160.32 L387.04 159.76 L387.60 159.19 L388.16 158.63 L388.72 158.06 L389.28 157.50 L389.84 156.93 L390.40 156.37 L390.96 155.80 L391.52 155.24 L392.08 154.67 L392.64 154.11 L393.20 153.55 L393.76 152.98 L394.32 152.42 L394.88 151.86 L395.44 151.29 L396.01 150.73 L396.57 150.17 L397.13 149.61 L397.69 149.05 L398.25 148.48 L398.82 147.92 L399.38 147.36 L399.94 146.80 L400.50 146.24 L401.07 145.68 L401.63 145.12 L402.19 144.56 L402.76 143.99 L403.32 143.43 L403.88 142.87 L404.45 142.31 L405.01 141.75 L405.58 141.19 L406.14 140.63 L406.70 140.08 L407.27 139.52 L407.83 138.96 L408.40 138.40 L408.96 137.84 L409.53 137.28 L410.09 136.72 L410.66 136.16 L411.22 135.60 L411.79 135.05 L412.35 134.49 L412.92 133.93 L413.49 133.37 L414.05 132.81 L414.62 132.26 L415.18 131.70 L415.75 131.14 L416.32 130.59 L416.88 130.03 L417.45 129.47 L418.02 128.91 L418.58 128.36 L419.15 127.80 L419.72 127.24 L420.28 126.69 L420.85 126.13 L421.41 125.57 L421.98 125.01 L422.54 124.46 L423.11 123.90 L423.68 123.34 L424.24 122.78 L424.81 122.23 L425.37 121.67 L425.94 121.11 L426.51 120.56 L427.07 120.00 L427.64 119.44 L428.21 118.88 L428.77 118.33 L429.34 117.77 L429.91 117.21 L430.47 116.66 L431.04 116.10 L431.61 115.54 L432.17 114.99 L432.74 114.43 L433.31 113.88 L433.87 113.32 L434.44 112.76 L435.01 112.21 L435.57 111.65 L436.14 111.10 L436.71 110.54 L437.28 109.98 L437.84 109.43 L438.41 108.87 L438.98 108.32 L439.55 107.76 L440.11 107.20 L440.68 106.65 L441.25 106.09 L441.82 105.54 L442.38 104.98 L442.95 104.43 L443.52 103.87 L444.09 103.32 L444.65 102.76 L445.22 102.20 L445.79 101.65 L446.36 101.09 L446.92 100.54 L447.49 99.98 L448.06 99.43 L448.63 98.87 L449.19 98.32 L449.76 97.76 L450.33 97.21 L450.90 96.65 L451.47 96.10 L452.03 95.54 L452.60 94.99 L453.17 94.43 L453.74 93.87 L454.30 93.32 L454.87 92.76 L455.44 92.21 L456.01 91.65 L456.57 91.10 L457.14 90.54 L457.71 89.99 L458.28 89.43 L458.84 88.88 L459.41 88.32 L459.98 87.77 L460.55 87.21 L461.11 86.65 L461.68 86.10 L462.25 85.54 L462.82 84.99 L463.38 84.43 L463.95 83.88 L464.52 83.32 L465.09 82.76 L465.65 82.21 L466.22 81.65 L466.79 81.10 L467.35 80.54 L467.92 79.98 L468.49 79.43 L469.06 78.87 L469.62 78.32 L470.19 77.76 L470.76 77.20 L471.32 76.65 L471.89 76.09 L472.45 75.53 L473.02 74.98 L473.59 74.42 L474.15 73.86 L474.72 73.30 L475.29 72.75 L475.85 72.19 L476.42 71.63 L476.98 71.08 L477.55 70.52 L478.11 69.96 L478.68 69.40 L479.24 68.84 L479.81 68.29 L480.38 67.73 L480.94 67.17 L481.51 66.61 L482.07 66.05 L482.64 65.50 L483.20 64.94 L483.76 64.38 L484.33 63.82 L484.89 63.26 L485.46 62.70 L486.02 62.14 L486.59 61.58 L487.15 61.02 L487.71 60.47 L488.28 59.91 L488.84 59.35 L489.41 58.79 L489.97 58.23 L490.53 57.67 L491.10 57.11 L491.66 56.55 L492.22 55.99 L492.79 55.43 L493.35 54.86 L493.91 54.30 L494.47 53.74 L495.04 53.18 L495.60 52.62 L496.16 52.06 L496.72 51.50 L497.29 50.94 L497.85 50.37 L498.41 49.81 L498.97 49.25 L499.53 48.69 L500.09 48.13 L500.65 47.56 L501.22 47.00 L501.78 46.44 L502.34 45.87 L502.90 45.31 L503.46 44.75 L504.02 44.18 L504.58 43.62 L505.14 43.06 L505.70 42.49 L506.26 41.93 L506.82 41.36 L507.38 40.80 L507.94 40.23 L508.50 39.67 L509.05 39.10 L509.61 38.54 L510.17 37.97 L510.73 37.41 L511.29 36.84 L511.85 36.28 L512.40 35.71 L512.96 35.14 L513.52 34.58 L514.08 34.01 L514.63 33.44 L515.19 32.88 L515.75 32.31 L516.30 31.74 L516.86 31.17 L517.42 30.60 L517.97 30.04 L518.53 29.47 L519.08 28.90 L519.64 28.33 L520.19 27.76 L520.75 27.19 L521.30 26.62 L521.86 26.05 L522.41 25.48 L522.97 24.91 L523.52 24.34 L524.07 23.77 L524.63 23.20 L525.18 22.63 L525.73 22.05 L526.29 21.48 L526.84 20.91 L527.39 20.34 L527.94 19.77 L528.50 19.19 L529.05 18.62 L529.60 18.05 L530.15 17.47 L530.70 16.90 L531.25 16.32 L531.80 15.75 L532.35 15.18 L532.90 14.60" stroke="#1c1c1c" stroke-width="2.8" stroke-dasharray="6 2.5" fill="none"/>
<path d="M303.73 271.61 L304.40 271.34 L305.07 271.08 L305.74 270.81 L306.42 270.54 L307.09 270.27 L307.76 270.01 L308.43 269.74 L309.10 269.47 L309.77 269.19 L310.44 268.92 L311.11 268.65 L311.78 268.38 L312.45 268.10 L313.12 267.83 L313.79 267.55 L314.46 267.27 L315.12 266.99 L315.79 266.71 L316.46 266.43 L317.12 266.15 L317.79 265.87 L318.46 265.59 L319.12 265.31 L319.79 265.02 L320.45 264.74 L321.12 264.45 L321.78 264.17 L322.44 263.88 L323.11 263.59 L323.77 263.30 L324.43 263.01 L325.10 262.72 L325.76 262.43 L326.42 262.13 L327.08 261.84 L327.74 261.54 L328.40 261.25 L329.06 260.95 L329.72 260.66 L330.38 260.36 L331.04 260.06 L331.69 259.76 L332.35 259.46 L333.01 259.16 L333.67 258.85 L334.32 258.55 L334.98 258.24 L335.63 257.94 L336.29 257.63 L336.94 257.33 L337.60 257.02 L338.25 256.71 L338.91 256.40 L339.56 256.09 L340.21 255.78 L340.86 255.46 L341.51 255.15 L342.16 254.83 L342.81 254.52 L343.46 254.20 L344.11 253.89 L344.76 253.57 L345.41 253.25 L346.06 252.93 L346.71 252.61 L347.35 252.28 L348.00 251.96 L348.65 251.64 L349.29 251.31 L349.94 250.99 L350.58 250.66 L351.23 250.33 L351.87 250.00 L352.51 249.68 L353.16 249.34 L353.80 249.01 L354.44 248.68 L355.08 248.35 L355.72 248.01 L356.36 247.68 L357.00 247.34 L357.64 247.01 L358.28 246.67 L358.91 246.33 L359.55 245.99 L360.19 245.65 L360.82 245.31 L361.46 244.96 L362.09 244.62 L362.73 244.27 L363.36 243.93 L364.00 243.58 L364.63 243.23 L365.26 242.89 L365.89 242.54 L366.52 242.18 L367.15 241.83 L367.78 241.48 L368.41 241.13 L369.04 240.77 L369.67 240.42 L370.30 240.06 L370.92 239.70 L371.55 239.34 L372.17 238.98 L372.80 238.62 L373.42 238.26 L374.05 237.90 L374.67 237.54 L375.29 237.17 L375.91 236.81 L376.53 236.44 L377.15 236.07 L377.77 235.70 L378.39 235.33 L379.01 234.96 L379.63 234.59 L380.25 234.23 L380.88 233.87 L381.50 233.51 L382.13 233.15 L382.75 232.79 L383.38 232.43 L384.00 232.07 L384.63 231.70 L385.25 231.34 L385.87 230.97 L386.49 230.61 L387.11 230.24 L387.73 229.87 L388.35 229.50 L388.97 229.13 L389.59 228.76 L390.20 228.38 L390.82 228.01 L391.43 227.63 L392.05 227.26 L392.66 226.88 L393.28 226.50 L393.89 226.12 L394.50 225.74 L395.12 225.36 L395.73 224.98 L396.34 224.59 L396.95 224.21 L397.56 223.82 L398.16 223.43 L398.77 223.04 L399.38 222.65 L399.99 222.26 L400.59 221.87 L401.20 221.48 L401.80 221.08 L402.40 220.69 L403.01 220.29 L403.61 219.89 L404.21 219.49 L404.81 219.09 L405.41 218.69 L406.01 218.29 L406.61 217.89 L407.20 217.48 L407.80 217.08 L408.40 216.67 L408.99 216.26 L409.59 215.85 L410.18 215.44 L410.77 215.03 L411.37 214.62 L411.96 214.20 L412.55 213.79 L413.12 213.34 L413.68 212.90 L414.25 212.45 L414.81 212.00 L415.38 211.55 L415.94 211.09 L416.50 210.64 L417.06 210.19 L417.62 209.73 L418.18 209.27 L418.74 208.82 L419.30 208.36 L419.85 207.90 L420.41 207.44 L420.96 206.98 L421.52 206.52 L422.07 206.05 L422.62 205.59 L423.18 205.12 L423.73 204.66 L424.28 204.19 L424.83 203.72 L425.37 203.26 L425.92 202.79 L426.47 202.32 L427.02 201.85 L427.56 201.37 L428.11 200.90 L428.65 200.43 L429.19 199.95 L429.74 199.48 L430.28 199.00 L430.82 198.52 L431.36 198.04 L431.90 197.57 L432.44 197.09 L432.98 196.61 L433.51 196.12 L434.05 195.64 L434.59 195.16 L435.12 194.68 L435.66 194.19 L436.19 193.71 L436.73 193.22 L437.26 192.73 L437.79 192.25 L438.32 191.76 L438.85 191.27 L439.38 190.78 L439.91 190.29 L440.46 189.81 L441.00 189.34 L441.54 188.86 L442.09 188.39 L442.63 187.91 L443.17 187.44 L443.71 186.96 L444.25 186.48 L444.79 186.00 L445.33 185.52 L445.87 185.04 L446.41 184.56 L446.95 184.08 L447.49 183.59 L448.03 183.11 L448.56 182.63 L449.10 182.14 L449.63 181.66 L450.17 181.17 L450.70 180.68 L451.24 180.20 L451.77 179.71 L452.30 179.22 L452.84 178.73 L453.37 178.24 L453.90 177.75 L454.43 177.26 L454.96 176.77 L455.49 176.28 L456.02 175.78 L456.55 175.29 L457.08 174.80 L457.61 174.30 L458.14 173.81 L458.66 173.31 L459.19 172.82 L459.72 172.32 L460.24 171.82 L460.77 171.33 L461.30 170.83 L461.82 170.33 L462.34 169.83 L462.87 169.33 L463.39 168.83 L463.92 168.33 L464.44 167.83 L464.96 167.33 L465.48 166.83 L466.01 166.33 L466.53 165.82 L467.05 165.32 L467.57 164.82 L468.09 164.31 L468.61 163.81 L469.13 163.30 L469.65 162.80 L470.17 162.29 L470.69 161.79 L471.21 161.28 L471.73 160.78 L472.24 160.27 L472.76 159.76 L473.28 159.25 L473.80 158.75 L474.31 158.24 L474.83 157.73 L475.35 157.22 L475.86 156.71 L476.38 156.20 L476.89 155.69 L477.41 155.18 L477.92 154.67 L478.44 154.16 L478.95 153.65 L479.47 153.14 L479.98 152.63 L480.49 152.12 L481.01 151.61 L481.52 151.10 L482.03 150.59 L482.55 150.07 L483.06 149.56 L483.57 149.05 L484.08 148.54 L484.60 148.02 L485.11 147.51 L485.62 147.00 L486.13 146.48 L486.64 145.97 L487.15 145.46 L487.66 144.94 L488.18 144.43 L488.68 143.91 L489.19 143.39 L489.69 142.87 L490.19 142.35 L490.70 141.83 L491.20 141.31 L491.70 140.79 L492.21 140.27 L492.71 139.75 L493.21 139.23 L493.72 138.70 L494.22 138.18 L494.72 137.66 L495.22 137.14 L495.73 136.62 L496.23 136.10 L496.73 135.58 L497.23 135.06 L497.74 134.54 L498.24 134.02 L498.74 133.49 L499.24 132.97 L499.74 132.45 L500.25 131.93 L500.75 131.41 L501.25 130.89 L501.75 130.37 L502.25 129.85 L502.76 129.33 L503.26 128.81 L503.76 128.29 L504.26 127.77 L504.76 127.25 L505.26 126.73 L505.77 126.21 L506.27 125.69 L506.77 125.17 L507.27 124.65 L507.77 124.13 L508.28 123.61 L508.78 123.09 L509.28 122.57 L509.78 122.06 L510.28 121.54 L510.79 121.02 L511.29 120.50 L511.79 119.98 L512.29 119.47 L512.79 118.95 L513.30 118.43 L513.80 117.92 L514.30 117.40 L514.81 116.88 L515.31 116.37 L515.81 115.85 L516.31 115.34 L516.82 114.82 L517.32 114.31 L517.83 113.79 L518.33 113.28 L518.83 112.76 L519.34 112.25 L519.84 111.74 L520.34 111.22 L520.85 110.71 L521.35 110.20 L521.86 109.69 L522.36 109.18 L522.87 108.66 L523.37 108.15 L523.88 107.64 L524.38 107.13 L524.89 106.62 L525.40 106.11 L525.90 105.61 L526.41 105.10 L526.92 104.59 L527.42 104.08 L527.93 103.57 L528.44 103.07 L528.95 102.56 L529.45 102.06 L529.96 101.55 L530.47 101.05 L530.98 100.55 L531.50 100.05" stroke="#1c1c1c" stroke-width="2.8" stroke-dasharray="6 2.5" fill="none"/>
<path d="M153.5 405.0 V413.8" stroke="#ff0000" stroke-width="1.6"/><circle cx="153.5" cy="405.0" r="5.7" fill="#ff0000"/>
<path d="M147.0 400.3 L153.5 394.40000000000003 L160.0 400.3 L153.5 406.2Z" fill="#ff0000"/>
<path d="M153.5 401.9 V410.0" stroke="#0000ff" stroke-width="1.6"/><circle cx="153.5" cy="401.9" r="5.7" fill="#0000ff"/>
<path d="M147.0 395.4 L153.5 389.5 L160.0 395.4 L153.5 401.29999999999995Z" fill="#0000ff"/>
<path d="M229.3 398.9 V407.8" stroke="#ff0000" stroke-width="1.6"/><circle cx="229.3" cy="398.9" r="5.7" fill="#ff0000"/>
<path d="M222.8 394.0 L229.3 388.1 L235.8 394.0 L229.3 399.9Z" fill="#ff0000"/>
<path d="M229.3 392.8 V401.5" stroke="#0000ff" stroke-width="1.6"/><circle cx="229.3" cy="392.8" r="5.7" fill="#0000ff"/>
<path d="M222.8 385.9 L229.3 380.0 L235.8 385.9 L229.3 391.79999999999995Z" fill="#0000ff"/>
<path d="M305.0 339.7 V349.0" stroke="#ff0000" stroke-width="1.6"/><circle cx="305.0" cy="339.7" r="5.7" fill="#ff0000"/>
<path d="M298.5 336.2 L305.0 330.3 L311.5 336.2 L305.0 342.09999999999997Z" fill="#ff0000"/>
<path d="M305.0 319.7 V329.7" stroke="#0000ff" stroke-width="1.6"/><circle cx="305.0" cy="319.7" r="5.7" fill="#0000ff"/>
<path d="M298.5 314.5 L305.0 308.6 L311.5 314.5 L305.0 320.4Z" fill="#0000ff"/>
<path d="M380.6 258.3 V266.5" stroke="#ff0000" stroke-width="1.6"/><circle cx="380.6" cy="258.3" r="5.7" fill="#ff0000"/>
<path d="M374.1 247.7 L380.6 241.79999999999998 L387.1 247.7 L380.6 253.6Z" fill="#ff0000"/>
<path d="M380.6 177.5 V186.2" stroke="#0000ff" stroke-width="1.6"/><circle cx="380.6" cy="177.5" r="5.7" fill="#0000ff"/>
<path d="M374.1 177.3 L380.6 171.4 L387.1 177.3 L380.6 183.20000000000002Z" fill="#0000ff"/>
<path d="M456.1 188.3 V197.9" stroke="#ff0000" stroke-width="1.6"/><circle cx="456.1" cy="188.3" r="5.7" fill="#ff0000"/>
<path d="M449.6 179.0 L456.1 173.1 L462.6 179.0 L456.1 184.9Z" fill="#ff0000"/>
<path d="M456.1 99.6 V111.0" stroke="#0000ff" stroke-width="1.6"/><circle cx="456.1" cy="99.6" r="5.7" fill="#0000ff"/>
<path d="M449.6 101.5 L456.1 95.6 L462.6 101.5 L456.1 107.4Z" fill="#0000ff"/>
<path d="M531.9 107.6 V117.1" stroke="#ff0000" stroke-width="1.6"/><circle cx="531.9" cy="107.6" r="5.7" fill="#ff0000"/>
<path d="M525.4 98.0 L531.9 92.1 L538.4 98.0 L531.9 103.9Z" fill="#ff0000"/>
<path d="M531.9 30.1 V39.6" stroke="#0000ff" stroke-width="1.6"/><circle cx="531.9" cy="30.1" r="5.7" fill="#0000ff"/>
<path d="M525.4 27.5 L531.9 21.6 L538.4 27.5 L531.9 33.4Z" fill="#0000ff"/>
<rect x="81.1" y="3.1" width="464.29999999999995" height="463.2" fill="none" stroke="#000" stroke-width="2.35"/>
<text x="134.34" y="487.20" font-size="20" fill="#000" xml:space="preserve">0.0</text><path transform="translate(162.14,487.20) scale(0.00977,-0.00977)" d="M763 0H583V1147Q518 1085 412.5 1023T223 930V1104Q374 1175 487 1276T647 1472H763Z" fill="#000"/>
<text x="209.84" y="487.20" font-size="20" fill="#000" xml:space="preserve">0.</text><path transform="translate(226.52,487.20) scale(0.00977,-0.00977)" d="M763 0H583V1147Q518 1085 412.5 1023T223 930V1104Q374 1175 487 1276T647 1472H763Z" fill="#000"/><text x="237.64" y="487.20" font-size="20" fill="#000" xml:space="preserve">0</text>
<path transform="translate(299.24,487.20) scale(0.00977,-0.00977)" d="M763 0H583V1147Q518 1085 412.5 1023T223 930V1104Q374 1175 487 1276T647 1472H763Z" fill="#000"/>
<path transform="translate(369.18,487.20) scale(0.00977,-0.00977)" d="M763 0H583V1147Q518 1085 412.5 1023T223 930V1104Q374 1175 487 1276T647 1472H763Z" fill="#000"/><text x="380.30" y="487.20" font-size="20" fill="#000" xml:space="preserve">0</text>
<path transform="translate(439.12,487.20) scale(0.00977,-0.00977)" d="M763 0H583V1147Q518 1085 412.5 1023T223 930V1104Q374 1175 487 1276T647 1472H763Z" fill="#000"/><text x="450.24" y="487.20" font-size="20" fill="#000" xml:space="preserve">00</text>
<path transform="translate(510.20,487.20) scale(0.00977,-0.00977)" d="M763 0H583V1147Q518 1085 412.5 1023T223 930V1104Q374 1175 487 1276T647 1472H763Z" fill="#000"/><text x="521.32" y="487.20" font-size="20" fill="#000" xml:space="preserve">000</text>
<text x="27.85" y="473.32" font-size="20" fill="#000" xml:space="preserve">0.00</text><path transform="translate(66.78,473.32) scale(0.00977,-0.00977)" d="M763 0H583V1147Q518 1085 412.5 1023T223 930V1104Q374 1175 487 1276T647 1472H763Z" fill="#000"/>
<text x="27.85" y="398.38" font-size="20" fill="#000" xml:space="preserve">0.0</text><path transform="translate(55.65,398.38) scale(0.00977,-0.00977)" d="M763 0H583V1147Q518 1085 412.5 1023T223 930V1104Q374 1175 487 1276T647 1472H763Z" fill="#000"/><text x="66.78" y="398.38" font-size="20" fill="#000" xml:space="preserve">0</text>
<text x="27.85" y="323.44" font-size="20" fill="#000" xml:space="preserve">0.</text><path transform="translate(44.53,323.44) scale(0.00977,-0.00977)" d="M763 0H583V1147Q518 1085 412.5 1023T223 930V1104Q374 1175 487 1276T647 1472H763Z" fill="#000"/><text x="55.65" y="323.44" font-size="20" fill="#000" xml:space="preserve">00</text>
<path transform="translate(66.78,248.50) scale(0.00977,-0.00977)" d="M763 0H583V1147Q518 1085 412.5 1023T223 930V1104Q374 1175 487 1276T647 1472H763Z" fill="#000"/>
<path transform="translate(55.65,173.56) scale(0.00977,-0.00977)" d="M763 0H583V1147Q518 1085 412.5 1023T223 930V1104Q374 1175 487 1276T647 1472H763Z" fill="#000"/><text x="66.78" y="173.56" font-size="20" fill="#000" xml:space="preserve">0</text>
<path transform="translate(44.53,98.62) scale(0.00977,-0.00977)" d="M763 0H583V1147Q518 1085 412.5 1023T223 930V1104Q374 1175 487 1276T647 1472H763Z" fill="#000"/><text x="55.65" y="98.62" font-size="20" fill="#000" xml:space="preserve">00</text>
<path transform="translate(33.41,23.68) scale(0.00977,-0.00977)" d="M763 0H583V1147Q518 1085 412.5 1023T223 930V1104Q374 1175 487 1276T647 1472H763Z" fill="#000"/><text x="44.53" y="23.68" font-size="20" fill="#000" xml:space="preserve">000</text>
<text x="217" y="514.3" font-size="20" fill="#000" xml:space="preserve">selection strength  Ns</text>
<g transform="translate(17.3,394) rotate(-90)" font-size="20" fill="#000">
<text x="0.00" y="0.00" font-size="20" fill="#000" xml:space="preserve">rate of gaining TFBS </text><path transform="translate(188.98,0.00) scale(0.00977,-0.00977)" d="M763 0H583V1147Q518 1085 412.5 1023T223 930V1104Q374 1175 487 1276T647 1472H763Z" fill="#000"/><text x="200.11" y="0.00" font-size="20" fill="#000" xml:space="preserve">/</text>
<path d="M212.2 -15 L206.9 -5.5 L212.2 4 M220 -15 L225.3 -5.5 L220 4" stroke="#000" stroke-width="1.35" fill="none"/>
<text x="213.5" y="0">t</text>
<text x="225.8" y="3.3" font-size="15" font-style="italic">S</text>
<path d="M234.4 -1.6 H243.2 M237.6 -4.7 L234.4 -1.6 L237.6 1.5" stroke="#000" stroke-width="1.1" fill="none"/>
<text x="244.3" y="3.3" font-size="15" font-style="italic">k</text>
<text x="275.4" y="0">[</text><text x="283.4" y="-1.6" font-size="12" font-weight="bold">×</text><text x="297.6" y="0">u</text><text x="310.3" y="0">]</text>
</g>
<path d="M92.5 240.6 H113.5 M97.5 236.4 L92.5 240.6 L97.5 244.8" stroke="#000" stroke-width="1.2" fill="none"/>
<text x="120" y="245.8" font-size="16.4" fill="#000">point mutation rate</text>
<path d="M327.5 352.3 H350.2" stroke="#0000ff" stroke-opacity="0.8" stroke-width="3.6"/>
<path d="M358.1 352.3 L363.1 347.3 L368.1 352.3 L363.1 357.3Z" fill="#0000ff"/>
<text x="372.30" y="357.00" font-size="13.35" fill="#000" xml:space="preserve">k=2, </text><text x="401.61" y="357.00" font-size="13.35" font-style="italic" fill="#000">θ</text><text x="408.86" y="357.00" font-size="13.35" fill="#000" xml:space="preserve">=0.</text><path transform="translate(427.79,357.00) scale(0.00652,-0.00652)" d="M763 0H583V1147Q518 1085 412.5 1023T223 930V1104Q374 1175 487 1276T647 1472H763Z" fill="#000"/><text x="435.21" y="357.00" font-size="13.35" fill="#000" xml:space="preserve">5 (point &amp; indel)</text>
<path d="M327.5 375.3 H350.2" stroke="#ff0000" stroke-opacity="0.8" stroke-width="3.6"/>
<path d="M358.1 375.3 L363.1 370.3 L368.1 375.3 L363.1 380.3Z" fill="#ff0000"/>
<text x="372.30" y="380.00" font-size="13.35" fill="#000" xml:space="preserve">k=5, </text><text x="401.61" y="380.00" font-size="13.35" font-style="italic" fill="#000">θ</text><text x="408.86" y="380.00" font-size="13.35" fill="#000" xml:space="preserve">=0.</text><path transform="translate(427.79,380.00) scale(0.00652,-0.00652)" d="M763 0H583V1147Q518 1085 412.5 1023T223 930V1104Q374 1175 487 1276T647 1472H763Z" fill="#000"/><text x="435.21" y="380.00" font-size="13.35" fill="#000" xml:space="preserve">5 (point &amp; indel)</text>
<path d="M325.8 398.8 H367" stroke="#2020ff" stroke-width="2" stroke-dasharray="3 2.3 7.4 2.3"/>
<circle cx="382.1" cy="399" r="4.3" fill="#0000ff"/>
<text x="390.70" y="403.60" font-size="13.35" fill="#000" xml:space="preserve">k=2, </text><text x="420.01" y="403.60" font-size="13.35" font-style="italic" fill="#000">θ</text><text x="427.26" y="403.60" font-size="13.35" fill="#000" xml:space="preserve">=0 (point)</text>
<path d="M325.8 421.9 H367" stroke="#ff2020" stroke-width="2" stroke-dasharray="3 2.3 7.4 2.3"/>
<circle cx="382.1" cy="422.1" r="4.3" fill="#ff0000"/>
<text x="390.70" y="426.70" font-size="13.35" fill="#000" xml:space="preserve">k=5, </text><text x="420.01" y="426.70" font-size="13.35" font-style="italic" fill="#000">θ</text><text x="427.26" y="426.70" font-size="13.35" fill="#000" xml:space="preserve">=0 (point)</text>
<path d="M329.8 447.9 H358.7" stroke="#222" stroke-width="1.8" stroke-dasharray="7.6 3"/>
<text x="367.30" y="452.60" font-size="13.35" fill="#000" xml:space="preserve">approx., </text><text x="419.25" y="452.60" font-size="13.35" font-style="italic" fill="#000">θ</text><text x="426.49" y="452.60" font-size="13.35" fill="#000" xml:space="preserve">=0 (point)</text>
</svg>
</body></html>
